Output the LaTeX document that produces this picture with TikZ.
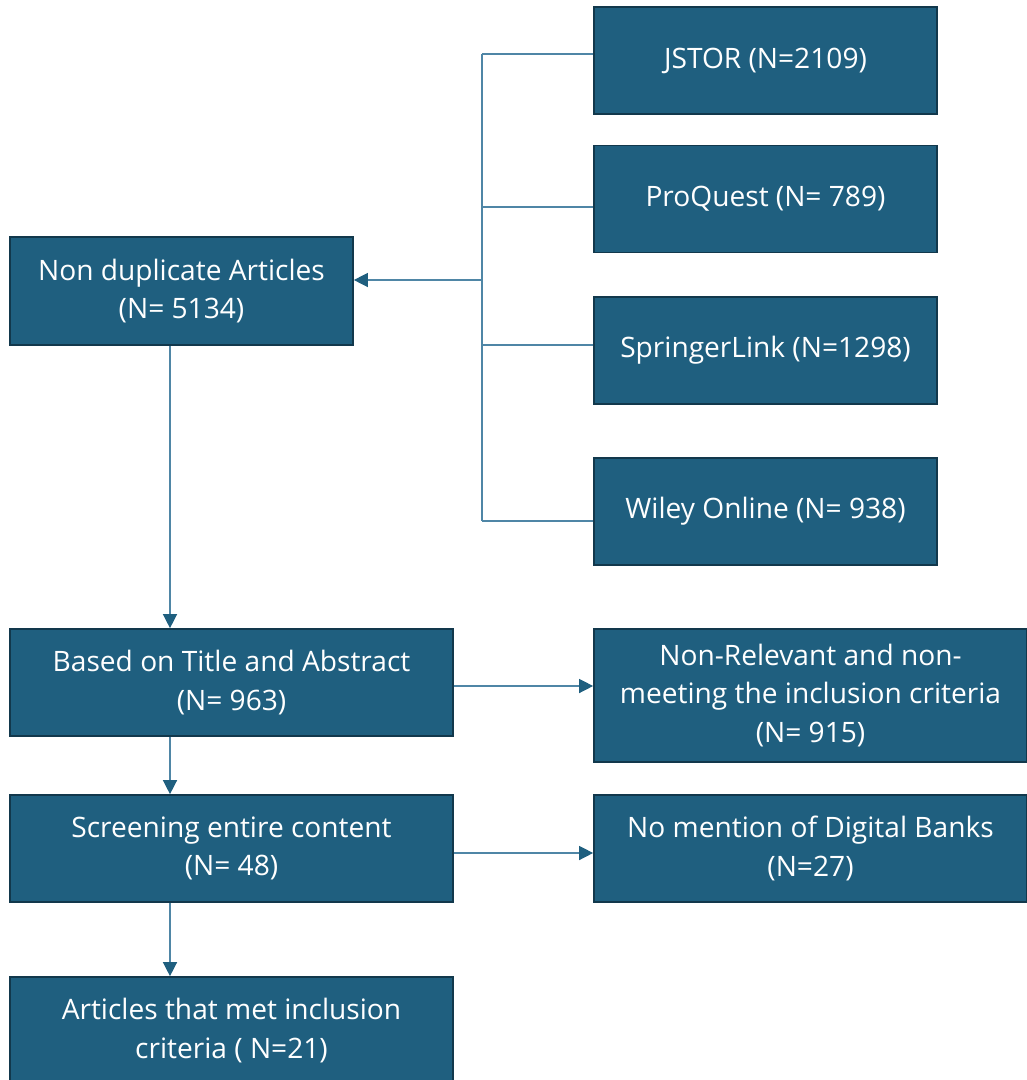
\documentclass[tikz,border=0pt]{standalone}
\usepackage{fontspec}
\setmainfont{Open Sans}
\usetikzlibrary{arrows.meta}
\definecolor{boxfill}{HTML}{1F5F7F}
\definecolor{boxedge}{HTML}{12384C}
\definecolor{linkcol}{HTML}{4F86A6}
\tikzset{
  box/.style={draw=boxedge, fill=boxfill, text=white, align=center, line width=1.2pt,
    inner sep=2pt, font=\fontsize{20}{27.5}\selectfont},
  sz/.style 2 args={minimum width=#1*0.025cm, minimum height=#2*0.025cm},
  link/.style={draw=linkcol, line width=1pt},
  arr/.style={link, -{Triangle[length=10pt, width=10pt, fill=boxfill, color=boxfill]}}
}
\begin{document}
\begin{tikzpicture}[x=0.025cm, y=-0.025cm]
 \clip (0,0) rectangle (1027,1080);
 \useasboundingbox (0,0) rectangle (1027,1080);
 % database boxes
 \node[box, sz={343}{107}] (jstor) at (765.5,60.5) {JSTOR (N=2109)};
 \node[box, sz={343}{107}] (proq) at (765.5,199) {ProQuest (N= 789)};
 \node[box, sz={343}{107}] (spring) at (765.5,350.5) {SpringerLink (N=1298)};
 \node[box, sz={343}{107}] (wiley) at (765.5,511.5) {Wiley Online (N= 938)};
 % main column
 \node[box, sz={343}{108}] (nondup) at (181.5,291) {Non duplicate Articles\\(N= 5134)};
 \node[box, sz={443}{107}] (title) at (231.5,682.5) {Based on Title and Abstract\\(N= 963)};
 \node[box, sz={443}{107}] (screen) at (231.5,848.5) {Screening entire content\\(N= 48)};
 \node[box, sz={443}{107}] (met) at (231.5,1030.5) {Articles that met inclusion\\criteria ( N=21)};
 % excluded
 \node[box, sz={433}{133}] (nonrel) at (810.5,695.5) {Non-Relevant and non-\\meeting the inclusion criteria\\(N= 915)};
 \node[box, sz={433}{107}] (nomen) at (810.5,848.5) {No mention of Digital Banks\\(N=27)};
 % trunk
 \coordinate (t1) at (482,54);
 \coordinate (t2) at (482,207);
 \coordinate (t3) at (482,345);
 \coordinate (t4) at (482,521);
 \coordinate (tm) at (482,280);
 \draw[link] (t1) -- (t4);
 \draw[link] (t1) -- (t1 -| jstor.west);
 \draw[link] (t2) -- (t2 -| proq.west);
 \draw[link] (t3) -- (t3 -| spring.west);
 \draw[link] (t4) -- (t4 -| wiley.west);
 \draw[arr] (tm) -- (tm -| nondup.east);
 % flow
 \coordinate (c1) at (170,0);
 \draw[arr] (nondup.south -| c1) -- (title.north -| c1);
 \draw[arr] (title.south -| c1) -- (screen.north -| c1);
 \draw[arr] (screen.south -| c1) -- (met.north -| c1);
 \coordinate (r1) at (0,686);
 \coordinate (r2) at (0,853);
 \draw[arr] (title.east |- r1) -- (nonrel.west |- r1);
 \draw[arr] (screen.east |- r2) -- (nomen.west |- r2);
\end{tikzpicture}
\end{document}
